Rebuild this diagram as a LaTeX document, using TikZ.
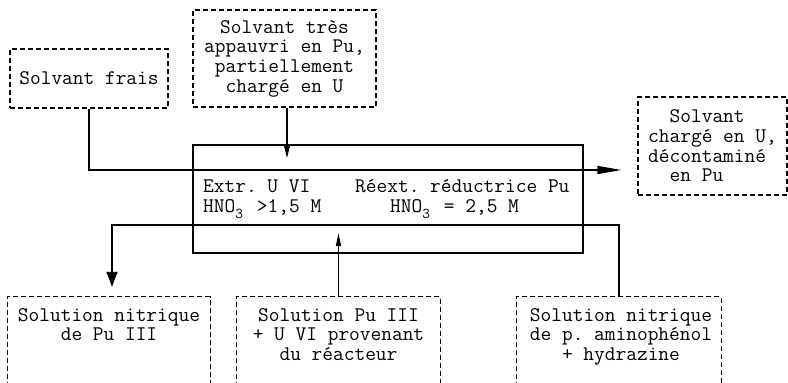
\documentclass[tikz,border=0pt]{standalone}
\usepackage{fontspec}
\usetikzlibrary{arrows.meta}
\newcommand\subtrois{\makebox[0.525em][l]{\raisebox{-0.3em}{\fontsize{15}{15}\selectfont 3}}}
\frenchspacing
\begin{document}
\begin{tikzpicture}[x=1pt,y=-1pt,
  every node/.style={font=\ttfamily\fontsize{20.8}{19.7}\selectfont, inner sep=0pt},
  dbox/.style={draw, line width=1.2pt, dash pattern=on 5pt off 3pt, rectangle, align=center},
  dline/.style={line width=1.2pt, dash pattern=on 5pt off 3pt},
  flow/.style={line width=1.4pt},
  arr/.style={flow, -{Triangle[length=13pt,width=6pt]}},
]
\useasboundingbox (0,0) rectangle (788,383);

% top boxes
\node[dbox, minimum width=158pt, minimum height=59pt] (frais) at (89,78.5) {Solvant frais};
\node[dbox, minimum width=183pt, minimum height=97pt] (tres) at (284.5,58.5)
  {Solvant très\\appauvri en Pu,\\partiellement\\chargé en U};
\node[dbox, minimum width=149pt, minimum height=98pt, align=left] (charge) at (712.5,146)
  {\phantom{xx}Solvant\\chargé en U,\\décontaminé\\\phantom{xx}en Pu};

% main box
\node[draw, line width=1.8pt, minimum width=390pt, minimum height=108pt] (main) at (388,199) {};
\node[anchor=base west] (l1) at (203,192) {Extr. U VI};
\node[anchor=base west] (l2) at (203,212) {HNO\subtrois{} >1,5 M};
\node[anchor=base west] (r1) at (355,192) {Réext. réductrice Pu};
\node[anchor=base west] (r2) at (390,212) {HNO\subtrois{} = 2,5 M};

% bottom boxes (open at the bottom)
\node[minimum width=202pt, minimum height=90pt] (nit) at (109,342) {};
\node[minimum width=203pt, minimum height=90pt] (pu) at (338.5,342) {};
\node[minimum width=204pt, minimum height=90pt] (amino) at (619,342) {};
\draw[dline] (nit.south west) -- (nit.north west) -- (nit.north east) -- (nit.south east);
\draw[dline] (pu.south west) -- (pu.north west) -- (pu.north east) -- (pu.south east);
\draw[dline] (amino.south west) -- (amino.north west) -- (amino.north east) -- (amino.south east);
\node[anchor=north, align=center] (nitT) at (109,308) {Solution nitrique\\de Pu III};
\node[anchor=north, align=center] (puT) at (338.5,308) {Solution Pu III\\+ U VI provenant\\du réacteur};
\node[anchor=north, align=center] (aminoT) at (621,308) {Solution nitrique\\de p. aminophénol\\+ hydrazine};

% flow lines
\coordinate (yA) at (0,170);
\coordinate (yB) at (0,225);
\coordinate (tipA) at (0,158);
\coordinate (tipB) at (0,233);
\draw[flow, -{Triangle[length=24pt,width=8pt]}] (frais.south) |- ([xshift=-16pt]charge.west |- yA);
\draw[flow, -{Triangle[length=15pt,width=11pt]}, shorten >=10pt]
  (amino.north) |- ([xshift=3pt]nit.north |- yB) -- ([xshift=3pt]nit.north);
\draw[arr] ([xshift=2.5pt]tres.south) -- ([xshift=2.5pt]tres.south |- tipA);
\draw[flow, -{Triangle[length=13pt,width=5pt]}] (pu.north) -- (pu.north |- tipB);
\end{tikzpicture}
\end{document}
